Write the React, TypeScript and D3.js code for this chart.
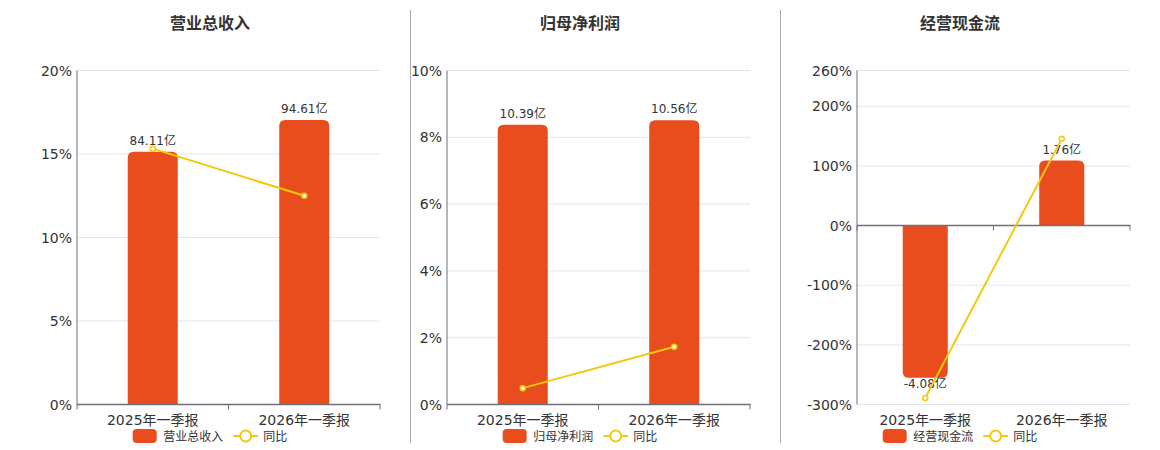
import React, { useEffect, useRef } from "react";
import * as d3 from "d3";

const categories = ["2025年一季报", "2026年一季报"];
const titles = ["营业总收入", "归母净利润", "经营现金流"];

const revenue = [84.11, 94.61];
const revenueYoy = [15.32, 12.5];
const revenueTicks = [0, 5, 10, 15, 20];

const netProfit = [10.39, 10.56];
const netProfitYoy = [0.49, 1.73];
const netProfitTicks = [0, 2, 4, 6, 8, 10];

const cashFlow = [-4.08, 1.76];
const cashFlowYoy = [-288.9, 145.4];
const cashFlowTicks = [-300, -200, -100, 0, 100, 200, 260];

const legendYoy = "同比";

const BAR = "#e94c1d";
const LINE = "#f4c80e";
const TEXT = "#333";
const FONT = "'DejaVu Sans', 'Noto Sans CJK SC', sans-serif";

const panels = [
  { title: titles[0], bars: revenue, yoy: revenueYoy, ticks: revenueTicks, barDomain: [0, 111.1], x0: 77, x1: 380, cx: 210 },
  { title: titles[1], bars: netProfit, yoy: netProfitYoy, ticks: netProfitTicks, barDomain: [0, 12.41], x0: 447, x1: 750, cx: 580 },
  { title: titles[2], bars: cashFlow, yoy: cashFlowYoy, ticks: cashFlowTicks, barDomain: [-4.8, 4.18], x0: 857, x1: 1130, cx: 960 },
];

const top = 70.5;
const bottom = 404.5;

function barPath(x: number, w: number, y0: number, y1: number, r: number) {
  const h = Math.abs(y1 - y0);
  const rr = Math.min(r, w / 2, h);
  if (y1 < y0) {
    // positive bar, round the top
    return `M${x},${y0}V${y1 + rr}Q${x},${y1} ${x + rr},${y1}H${x + w - rr}Q${x + w},${y1} ${x + w},${y1 + rr}V${y0}Z`;
  }
  return `M${x},${y0}V${y1 - rr}Q${x},${y1} ${x + rr},${y1}H${x + w - rr}Q${x + w},${y1} ${x + w},${y1 - rr}V${y0}Z`;
}

export default function App() {
  const ref = useRef<SVGSVGElement>(null);

  useEffect(() => {
    const svg = d3.select(ref.current!);
    svg.selectAll("*").remove();
    svg.attr("font-family", FONT);

    // separators between the panels
    [410.5, 780.5].forEach((sx) =>
      svg.append("line").attr("x1", sx).attr("x2", sx).attr("y1", 10).attr("y2", 443)
        .attr("stroke", "#aaa").attr("stroke-width", 1)
    );

    panels.forEach((p) => {
      const g = svg.append("g");
      const ticks = p.ticks;
      const y = d3.scaleLinear().domain([ticks[0], ticks[ticks.length - 1]]).range([bottom, top]);
      const yBar = d3.scaleLinear().domain(p.barDomain).range([bottom, top]);
      const x = d3.scaleBand<string>().domain(categories).range([p.x0, p.x1])
        .paddingInner(0.67).paddingOuter(0.335);
      const zeroY = y(0);

      g.append("text").attr("x", p.cx).attr("y", 29).attr("text-anchor", "middle")
        .attr("font-size", 16).attr("font-weight", "bold").attr("fill", TEXT).text(p.title);

      // grid
      g.selectAll(".grid").data(ticks).join("line")
        .attr("x1", p.x0).attr("x2", p.x1)
        .attr("y1", (d) => y(d)).attr("y2", (d) => y(d))
        .attr("stroke", "#e0e6f1").attr("stroke-width", 1);

      g.selectAll(".ytick").data(ticks).join("text")
        .attr("x", p.x0 - 5).attr("y", (d) => y(d)).attr("dy", "0.36em")
        .attr("text-anchor", "end").attr("font-size", 14).attr("fill", TEXT)
        .text((d) => `${d}%`);

      // bars
      g.selectAll(".bar").data(p.bars).join("path")
        .attr("d", (d, i) => barPath(x(categories[i])!, x.bandwidth(), yBar(0), yBar(d), 6))
        .attr("fill", BAR);

      g.selectAll(".vlabel").data(p.bars).join("text")
        .attr("x", (d, i) => x(categories[i])! + x.bandwidth() / 2)
        .attr("y", (d) => (d >= 0 ? yBar(d) - 7 : yBar(d) + 10))
        .attr("text-anchor", "middle").attr("font-size", 12).attr("fill", TEXT)
        .text((d) => `${d.toFixed(2)}亿`);

      // axes
      g.append("line").attr("x1", p.x0).attr("x2", p.x0).attr("y1", top).attr("y2", bottom)
        .attr("stroke", "#6e7079").attr("stroke-width", 1);
      g.append("line").attr("x1", p.x0).attr("x2", p.x1 + 0.5).attr("y1", zeroY).attr("y2", zeroY)
        .attr("stroke", "#6e7079").attr("stroke-width", 1.6);
      const edges = [p.x0, (p.x0 + p.x1) / 2, p.x1];
      g.selectAll(".xtick").data(edges).join("line")
        .attr("x1", (d) => d).attr("x2", (d) => d)
        .attr("y1", zeroY).attr("y2", zeroY + 5)
        .attr("stroke", "#6e7079").attr("stroke-width", 1);

      g.selectAll(".xlabel").data(categories).join("text")
        .attr("x", (d) => x(d)! + x.bandwidth() / 2).attr("y", 425)
        .attr("text-anchor", "middle").attr("font-size", 14).attr("fill", TEXT)
        .text((d) => d);

      // yoy line
      const line = d3.line<number>()
        .x((d, i) => x(categories[i])! + x.bandwidth() / 2)
        .y((d) => y(d));
      g.append("path").datum(p.yoy).attr("d", line).attr("fill", "none")
        .attr("stroke", LINE).attr("stroke-width", 2);
      g.selectAll(".pt").data(p.yoy).join("circle")
        .attr("cx", (d, i) => x(categories[i])! + x.bandwidth() / 2).attr("cy", (d) => y(d))
        .attr("r", 2.5).attr("fill", "#fff").attr("stroke", LINE).attr("stroke-width", 1.5);

      // legend
      const lx = p.cx - 77.3;
      const lg = g.append("g").attr("transform", `translate(${lx},0)`);
      lg.append("rect").attr("x", 0).attr("y", 429).attr("width", 24).attr("height", 14)
        .attr("rx", 4).attr("fill", BAR);
      lg.append("text").attr("x", 30.6).attr("y", 440.5).attr("font-size", 12).attr("fill", TEXT)
        .text(p.title);
      lg.append("line").attr("x1", 100.6).attr("x2", 125.3).attr("y1", 436).attr("y2", 436)
        .attr("stroke", LINE).attr("stroke-width", 2);
      lg.append("circle").attr("cx", 113).attr("cy", 436).attr("r", 5.5)
        .attr("fill", "#fff").attr("stroke", LINE).attr("stroke-width", 2);
      lg.append("text").attr("x", 130.6).attr("y", 440.5).attr("font-size", 12).attr("fill", TEXT)
        .text(legendYoy);
    });
  }, []);

  return (
    <svg
      ref={ref}
      width={1160}
      height={450}
      style={{ position: "absolute", left: 0, top: 0, background: "#fff" }}
    />
  );
}
